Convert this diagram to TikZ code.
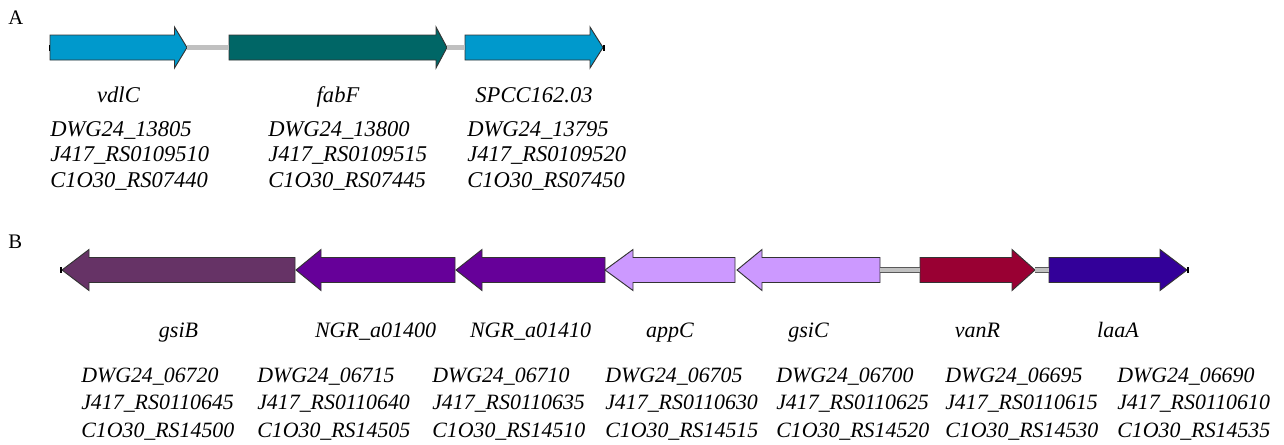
\documentclass[tikz,border=0pt]{standalone}
\usepackage{fontspec}
\setmainfont{Liberation Serif}

\definecolor{genecyan}{RGB}{0,153,204}
\definecolor{geneteal}{RGB}{0,102,102}
\definecolor{geneplum}{RGB}{102,51,102}
\definecolor{geneviolet}{RGB}{102,0,153}
\definecolor{genelilac}{RGB}{204,153,255}
\definecolor{genewine}{RGB}{153,0,51}
\definecolor{geneindigo}{RGB}{51,0,153}
\definecolor{linkgray}{RGB}{192,192,192}

\tikzset{
  gene/.style={draw=black!80, line width=0.7pt, line join=miter},
  linker/.style={draw=black!65, line width=0.45pt, double=linkgray, double distance=3.2pt},
  stub/.style={black, line width=4.5pt},
  genename/.style={anchor=base, inner sep=0pt, font=\fontsize{#1}{20}\selectfont\itshape},
  genename/.default=16.9,
  idtext/.style={anchor=base west, inner sep=0pt, font=\fontsize{#1}{20}\selectfont\itshape},
  idtext/.default=16.9,
  panel/.style={anchor=base west, inner sep=0pt, font=\fontsize{15.5}{18}\selectfont},
}

% 基因箭头: 名称, 尾, 头, y, 箭头长, 颜色, 标签
\newcommand{\gene}[7]{%
  \pgfmathsetmacro{\headbase}{#3-#5*sign(#3-#2)}
  \filldraw[gene, fill=#6] (#2,#4-12.5) -- (\headbase,#4-12.5) -- (\headbase,#4-20.5)
    -- (#3,#4) -- (\headbase,#4+20.5) -- (\headbase,#4+12.5) -- (#2,#4+12.5) -- cycle;
  \coordinate (#1-tail) at (#2,#4);
  \coordinate (#1-tip) at (#3,#4);
  \node[genename=\namesize] (#1-name) at ({(#2+#3)/2},\namey) {#7};
}

\begin{document}
\begin{tikzpicture}[x=0.75pt, y=-0.75pt]
    \useasboundingbox (0,0) rectangle (1284,444);

    % A
    \node[panel] (labA) at (8,24) {A};
    \def\namey{102}
    \def\namesize{16.9}
    \gene{vdlC}{50}{187}{47.5}{12.5}{genecyan}{vdlC}
    \gene{fabF}{229}{447}{47.5}{11}{geneteal}{fabF}
    \gene{spcc}{465}{603}{47.5}{13}{genecyan}{SPCC162.03}
    \draw[linker] (vdlC-tip) -- (fabF-tail);
    \draw[linker] (fabF-tip) -- (spcc-tail);
    \draw[stub] (vdlC-tail) -- ++(-1.5,0);
    \draw[stub] (spcc-tip) -- ++(1.5,0);

    % A 的编号
    \foreach \x/\a/\b/\c [count=\i] in {
        50/DWG24\_13805/J417\_RS0109510/C1O30\_RS07440,
        268/DWG24\_13800/J417\_RS0109515/C1O30\_RS07445,
        467/DWG24\_13795/J417\_RS0109520/C1O30\_RS07450} {
      \node[idtext] (a\i-1) at (\x,136) {\a};
      \node[idtext] (a\i-2) at (\x,161.5) {\b};
      \node[idtext] (a\i-3) at (\x,187) {\c};
    }

    % B
    \node[panel] (labB) at (8,248) {B};
    \def\namey{337}
    \def\namesize{16.5}
    \gene{gsiB}{295}{62}{270}{27}{geneplum}{gsiB}
    \gene{ngrA}{455}{296}{270}{25}{geneviolet}{NGR\_a01400}
    \gene{ngrB}{605}{456}{270}{26}{geneviolet}{NGR\_a01410}
    \gene{appC}{735}{605}{270}{28}{genelilac}{appC}
    \gene{gsiC}{880}{737}{270}{25}{genelilac}{gsiC}
    \gene{vanR}{920}{1035}{270}{23}{genewine}{vanR}
    \gene{laaA}{1049}{1187}{270}{27}{geneindigo}{laaA}
    \draw[linker] (gsiC-tail) -- (vanR-tail);
    \draw[linker] (vanR-tip) -- (laaA-tail);
    \draw[stub] (gsiB-tip) -- ++(-2.5,0);
    \draw[stub] (laaA-tip) -- ++(2,0);

    % B 的编号
    \foreach \x/\a/\b/\c [count=\i] in {
        81/DWG24\_06720/J417\_RS0110645/C1O30\_RS14500,
        257/DWG24\_06715/J417\_RS0110640/C1O30\_RS14505,
        432/DWG24\_06710/J417\_RS0110635/C1O30\_RS14510,
        605/DWG24\_06705/J417\_RS0110630/C1O30\_RS14515,
        776/DWG24\_06700/J417\_RS0110625/C1O30\_RS14520,
        945/DWG24\_06695/J417\_RS0110615/C1O30\_RS14530,
        1117/DWG24\_06690/J417\_RS0110610/C1O30\_RS14535} {
      \node[idtext=16.4] (b\i-1) at (\x,382) {\a};
      \node[idtext=16.4] (b\i-2) at (\x,409.5) {\b};
      \node[idtext=16.4] (b\i-3) at (\x,437) {\c};
    }
\end{tikzpicture}
\end{document}
